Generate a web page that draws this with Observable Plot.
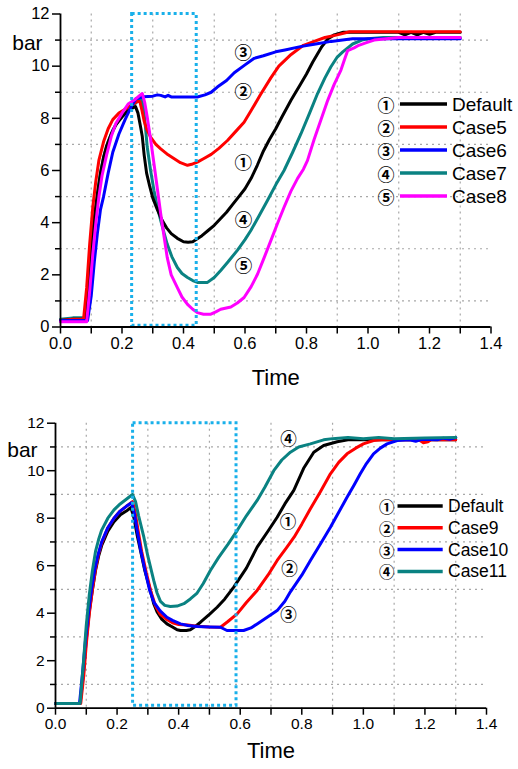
<!DOCTYPE html>
<html>
<head>
<meta charset="utf-8">
<script src="https://cdn.jsdelivr.net/npm/d3@7"></script>
<script src="https://cdn.jsdelivr.net/npm/@observablehq/plot@0.6"></script>
<style>
  body { margin: 0; background: #fff; font-family: "Liberation Sans", Arial, sans-serif; }
  .panel { position: relative; width: 518px; }
  .panel svg.overlay { position: absolute; left: 0; top: 0; pointer-events: none; }
</style>
</head>
<body>
<div id="top" class="panel" style="height:395px"></div>
<div id="bot" class="panel" style="height:374px"></div>
<script>
// ---------------- DATA ----------------
// Top panel: [Time, bar]
const defaultTop = [[0,0.25],[0.04,0.3],[0.08,0.3],[0.09,1.6],[0.1,3.0],[0.11,4.2],[0.12,5.1],[0.13,5.9],[0.14,6.5],[0.15,6.95],[0.165,7.4],[0.18,7.75],[0.2,8.05],[0.22,8.3],[0.235,8.4],[0.244,8.45],[0.252,8.2],[0.26,7.7],[0.266,7.3],[0.272,6.6],[0.28,5.9],[0.29,5.4],[0.3,4.95],[0.315,4.5],[0.33,4.1],[0.345,3.8],[0.36,3.58],[0.38,3.4],[0.4,3.27],[0.415,3.25],[0.43,3.27],[0.445,3.38],[0.46,3.5],[0.48,3.7],[0.5,3.9],[0.52,4.15],[0.54,4.4],[0.56,4.7],[0.58,5.0],[0.6,5.3],[0.62,5.7],[0.64,6.2],[0.66,6.75],[0.68,7.2],[0.7,7.6],[0.72,8.05],[0.75,8.7],[0.78,9.3],[0.8,9.7],[0.82,10.15],[0.85,10.75],[0.87,11.05],[0.89,11.2],[0.92,11.3],[1.0,11.3],[1.1,11.3],[1.12,11.2],[1.14,11.3],[1.16,11.2],[1.18,11.3],[1.2,11.22],[1.22,11.3],[1.3,11.3]];
const case5Top = [[0,0.25],[0.04,0.3],[0.075,0.3],[0.085,1.5],[0.095,3.2],[0.105,4.6],[0.115,5.6],[0.125,6.4],[0.14,7.1],[0.155,7.6],[0.17,7.95],[0.19,8.2],[0.21,8.35],[0.23,8.5],[0.25,8.65],[0.258,8.65],[0.265,8.3],[0.272,7.9],[0.28,7.6],[0.293,7.28],[0.31,7.0],[0.326,6.83],[0.35,6.6],[0.37,6.45],[0.39,6.3],[0.413,6.2],[0.43,6.25],[0.445,6.32],[0.465,6.45],[0.49,6.62],[0.515,6.85],[0.543,7.15],[0.57,7.5],[0.597,7.85],[0.62,8.3],[0.65,8.9],[0.684,9.55],[0.71,10.0],[0.75,10.45],[0.79,10.8],[0.825,10.95],[0.86,11.1],[0.9,11.2],[0.94,11.32],[1.3,11.32]];
const case6Top = [[0,0.25],[0.04,0.25],[0.088,0.25],[0.1,1.2],[0.11,2.5],[0.12,3.6],[0.13,4.5],[0.14,5.0],[0.155,5.9],[0.17,6.7],[0.19,7.4],[0.21,7.95],[0.23,8.45],[0.245,8.75],[0.27,8.83],[0.3,8.85],[0.315,8.9],[0.326,8.88],[0.34,8.82],[0.35,8.88],[0.36,8.82],[0.4,8.82],[0.445,8.82],[0.47,8.9],[0.49,9.0],[0.51,9.2],[0.54,9.45],[0.565,9.75],[0.6,10.05],[0.63,10.3],[0.66,10.4],[0.7,10.55],[0.73,10.62],[0.78,10.75],[0.83,10.85],[0.88,10.95],[0.93,11.02],[0.95,11.05],[1.3,11.05]];
const case7Top = [[0,0.3],[0.04,0.35],[0.08,0.35],[0.09,1.5],[0.1,2.9],[0.11,4.1],[0.12,5.1],[0.13,5.9],[0.14,6.5],[0.155,7.1],[0.17,7.55],[0.19,7.95],[0.21,8.2],[0.233,8.45],[0.25,8.65],[0.262,8.8],[0.27,8.4],[0.276,7.7],[0.282,6.9],[0.293,6.0],[0.304,5.23],[0.315,4.6],[0.326,4.08],[0.337,3.6],[0.347,3.18],[0.362,2.7],[0.38,2.28],[0.395,2.05],[0.413,1.9],[0.43,1.78],[0.445,1.71],[0.478,1.71],[0.5,1.9],[0.521,2.17],[0.545,2.5],[0.575,2.94],[0.6,3.35],[0.619,3.7],[0.645,4.25],[0.673,4.85],[0.7,5.45],[0.727,6.0],[0.755,6.7],[0.782,7.41],[0.81,8.2],[0.836,8.95],[0.86,9.55],[0.879,9.97],[0.9,10.35],[0.918,10.55],[0.95,10.85],[0.98,11.0],[1.0,11.05],[1.05,11.1],[1.3,11.1]];
const case8Top = [[0,0.2],[0.04,0.2],[0.085,0.2],[0.095,1.4],[0.105,2.8],[0.115,4.0],[0.125,5.0],[0.135,5.8],[0.15,6.6],[0.165,7.3],[0.18,7.8],[0.2,8.2],[0.22,8.55],[0.24,8.7],[0.255,8.85],[0.266,8.95],[0.274,8.6],[0.282,8.05],[0.293,7.2],[0.304,6.26],[0.315,5.3],[0.326,4.33],[0.337,3.45],[0.347,2.67],[0.36,2.0],[0.38,1.51],[0.395,1.15],[0.413,0.87],[0.43,0.68],[0.445,0.55],[0.465,0.49],[0.489,0.49],[0.505,0.58],[0.521,0.68],[0.554,0.77],[0.575,0.92],[0.597,1.13],[0.62,1.55],[0.641,2.03],[0.662,2.65],[0.684,3.31],[0.705,3.95],[0.727,4.59],[0.749,5.2],[0.771,5.7],[0.79,6.05],[0.803,6.38],[0.825,7.2],[0.847,7.95],[0.869,8.69],[0.89,9.3],[0.912,9.85],[0.925,10.3],[0.934,10.6],[0.955,10.7],[0.97,10.8],[0.995,10.9],[1.02,11.0],[1.06,11.05],[1.1,11.1],[1.3,11.1]];

// Bottom panel: [Time, bar]
const defaultBot = [[0,0.2],[0.04,0.2],[0.08,0.2],[0.09,1.4],[0.1,2.9],[0.11,4.1],[0.12,5.0],[0.13,5.8],[0.14,6.4],[0.15,6.85],[0.17,7.45],[0.19,7.85],[0.211,8.15],[0.23,8.3],[0.245,8.45],[0.255,8.0],[0.265,7.3],[0.276,6.64],[0.29,5.8],[0.308,4.96],[0.319,4.4],[0.33,4.05],[0.345,3.75],[0.362,3.55],[0.38,3.42],[0.395,3.3],[0.406,3.27],[0.425,3.27],[0.438,3.3],[0.455,3.45],[0.471,3.62],[0.5,3.95],[0.525,4.25],[0.55,4.6],[0.579,5.1],[0.62,5.9],[0.655,6.78],[0.69,7.45],[0.72,8.04],[0.745,8.6],[0.774,9.17],[0.806,10.1],[0.839,10.78],[0.871,11.06],[0.915,11.22],[0.95,11.3],[1.3,11.3]];
const case9Bot = [[0,0.2],[0.04,0.2],[0.082,0.2],[0.092,1.4],[0.1,2.7],[0.11,4.0],[0.12,5.0],[0.13,5.85],[0.14,6.5],[0.15,6.95],[0.17,7.6],[0.19,8.0],[0.21,8.3],[0.23,8.5],[0.25,8.7],[0.258,8.3],[0.268,7.5],[0.28,6.6],[0.295,5.7],[0.31,4.9],[0.325,4.3],[0.34,3.95],[0.36,3.75],[0.38,3.6],[0.4,3.52],[0.43,3.5],[0.46,3.45],[0.5,3.42],[0.536,3.41],[0.56,3.65],[0.59,3.97],[0.62,4.45],[0.655,4.96],[0.69,5.6],[0.72,6.22],[0.75,6.75],[0.775,7.2],[0.8,7.75],[0.828,8.4],[0.86,9.1],[0.893,9.87],[0.92,10.35],[0.947,10.71],[0.975,10.95],[1.0,11.13],[1.033,11.27],[1.06,11.3],[1.18,11.3],[1.195,11.18],[1.21,11.22],[1.22,11.3],[1.3,11.3]];
const case10Bot = [[0,0.2],[0.04,0.2],[0.078,0.2],[0.088,1.5],[0.097,2.8],[0.107,4.0],[0.117,5.0],[0.127,5.8],[0.137,6.4],[0.15,7.0],[0.17,7.6],[0.19,8.0],[0.21,8.3],[0.23,8.5],[0.247,8.65],[0.256,8.2],[0.265,7.5],[0.276,6.7],[0.29,5.85],[0.305,5.0],[0.32,4.45],[0.34,4.1],[0.362,3.83],[0.38,3.7],[0.406,3.55],[0.43,3.48],[0.46,3.44],[0.5,3.42],[0.536,3.41],[0.557,3.27],[0.611,3.27],[0.635,3.38],[0.655,3.55],[0.69,3.85],[0.72,4.11],[0.745,4.5],[0.763,4.9],[0.8,5.6],[0.828,6.22],[0.86,6.9],[0.893,7.62],[0.92,8.25],[0.947,8.88],[0.97,9.4],[0.99,9.87],[1.01,10.3],[1.033,10.71],[1.055,10.95],[1.077,11.13],[1.11,11.27],[1.15,11.3],[1.17,11.24],[1.19,11.32],[1.24,11.3],[1.26,11.37],[1.28,11.32],[1.3,11.4]];
const case11Bot = [[0,0.2],[0.04,0.2],[0.08,0.2],[0.09,1.8],[0.1,3.5],[0.11,4.8],[0.12,5.8],[0.13,6.6],[0.14,7.1],[0.15,7.5],[0.17,8.0],[0.19,8.35],[0.21,8.6],[0.23,8.8],[0.25,9.0],[0.26,8.7],[0.27,8.1],[0.287,7.2],[0.3,6.4],[0.319,5.38],[0.33,4.85],[0.341,4.5],[0.355,4.33],[0.373,4.28],[0.395,4.3],[0.417,4.4],[0.438,4.6],[0.46,4.85],[0.48,5.25],[0.503,5.8],[0.53,6.35],[0.56,6.9],[0.59,7.48],[0.62,8.1],[0.655,8.75],[0.68,9.3],[0.709,10.0],[0.735,10.45],[0.763,10.78],[0.79,11.0],[0.828,11.13],[0.871,11.3],[0.9,11.35],[0.95,11.4],[1.0,11.35],[1.05,11.4],[1.1,11.35],[1.2,11.38],[1.3,11.4]];

// Series names & colours
const topNames = ["Default", "Case5", "Case6", "Case7", "Case8"];
const topColors = ["#000000", "#ff0000", "#0000ff", "#0a8282", "#ff00ff"];
const topSeries = [defaultTop, case5Top, case6Top, case7Top, case8Top];
const botNames = ["Default", "Case9", "Case10", "Case11"];
const botColors = ["#000000", "#ff0000", "#0000ff", "#0a8282"];
const botSeries = [defaultBot, case9Bot, case10Bot, case11Bot];
const circled = ["①", "②", "③", "④", "⑤"];

// Circled labels on curves [Time, bar, label]
const annotTop = [[0.594, 10.49, "③"], [0.594, 9.01, "②"], [0.594, 6.28, "①"], [0.595, 4.1, "④"], [0.595, 2.31, "⑤"]];
const annotBot = [[0.757, 11.3, "④"], [0.755, 7.79, "①"], [0.76, 5.83, "②"], [0.757, 3.9, "③"]];

// Highlight boxes [t1, t2, v1, v2]
const boxTop = [0.233, 0.443, 0.05, 12];
const boxBot = [0.252, 0.588, 0.1, 12];

// Ticks
const xMajor = [0, 0.2, 0.4, 0.6, 0.8, 1.0, 1.2, 1.4];
const xMinor = [0.1, 0.3, 0.5, 0.7, 0.9, 1.1, 1.3];
const yMajor = [0, 2, 4, 6, 8, 10, 12];
const yMinor = [1, 3, 5, 7, 9, 11];

// ---------------- DRAW ----------------
const CJK = "'Noto Sans CJK JP', 'DejaVu Sans', sans-serif";

function panel(el, cfg) {
  const lines = cfg.series.map((s, i) =>
    Plot.line(s, {x: d => d[0], y: d => d[1], stroke: cfg.colors[i], strokeWidth: 3, strokeLinejoin: "round", strokeLinecap: "round"}));
  const order = cfg.order.map(i => lines[i]);
  const chart = Plot.plot({
    width: 518, height: cfg.height,
    marginLeft: cfg.ml, marginRight: cfg.mr, marginTop: cfg.mt, marginBottom: cfg.mb,
    x: {domain: [0, 1.4]}, y: {domain: [0, 12]},
    style: {fontFamily: "'Liberation Sans', Arial, sans-serif", color: "#000", background: "#fff", overflow: "visible"},
    marks: [
      Plot.gridX(xMinor, {stroke: "#a8a8a8", strokeOpacity: 1, strokeWidth: 1.2, strokeDasharray: "2,4"}),
      Plot.gridY(yMinor, {stroke: "#a8a8a8", strokeOpacity: 1, strokeWidth: 1.2, strokeDasharray: "2,4"}),
      ...order,
      Plot.rect([cfg.box], {x1: d => d[0], x2: d => d[1], y1: d => d[2], y2: d => d[3], fill: "none", stroke: "#19b0ea", strokeWidth: 3, strokeDasharray: "3,3"}),
      Plot.text(cfg.annot, {x: d => d[0], y: d => d[1], text: d => d[2], fontFamily: CJK, fontSize: cfg.cfs, fontWeight: "bold", fill: "#000"}),
      Plot.axisX(xMajor, {tickSize: 7, tickPadding: 3, tickFormat: d => d.toFixed(1), fontSize: cfg.fs, strokeWidth: 1.5, label: null}),
      Plot.axisX(xMinor, {tickSize: 7, tickFormat: () => "", strokeWidth: 1.5, label: null}),
      Plot.axisY(yMajor, {tickSize: 8, tickPadding: 3, tickFormat: d => String(d), fontSize: cfg.fs, strokeWidth: 1.5, label: null}),
      Plot.axisY(yMinor, {tickSize: 5, tickFormat: () => "", strokeWidth: 1.5, label: null}),
      Plot.ruleX([0], {stroke: "#000", strokeWidth: 1.8}),
      Plot.ruleY([0], {stroke: "#000", strokeWidth: 1.8}),
      Plot.text(["Time"], {frameAnchor: "bottom", dy: cfg.timeDy, fontSize: 22, fill: "#000"}),
      Plot.text(["bar"], {frameAnchor: "top-left", dx: cfg.barDx, dy: cfg.barDy, textAnchor: "start", fontSize: 21, fill: "#000"})
    ]
  });
  el.appendChild(chart);

  // Legend overlay
  const svg = d3.select(el).append("svg").attr("class", "overlay")
    .attr("width", 518).attr("height", cfg.height);
  cfg.names.forEach((name, i) => {
    const y = cfg.leg.y0 + i * cfg.leg.dy;
    svg.append("text").attr("x", cfg.leg.cx).attr("y", y).attr("text-anchor", "middle")
      .attr("dominant-baseline", "central").attr("font-family", CJK).attr("font-weight", "bold")
      .attr("font-size", cfg.leg.cfs).text(circled[i]);
    svg.append("line").attr("x1", cfg.leg.lx1).attr("x2", cfg.leg.lx2).attr("y1", y).attr("y2", y)
      .attr("stroke", cfg.colors[i]).attr("stroke-width", 3.5);
    svg.append("text").attr("x", cfg.leg.tx).attr("y", y).attr("dominant-baseline", "central")
      .attr("font-family", "'Liberation Sans', Arial, sans-serif").attr("font-size", cfg.leg.fs).text(name);
  });
}

panel(document.getElementById("top"), {
  height: 395, ml: 60, mr: 27.5, mt: 13.5, mb: 68.5, fs: 16.5, cfs: 17.5,
  series: topSeries, names: topNames, colors: topColors, order: [3, 0, 1, 2, 4],
  annot: annotTop, box: boxTop, timeDy: 58, barDx: -48.3, barDy: 21.5,
  leg: {y0: 104, dy: 23, cx: 386, lx1: 400, lx2: 447, tx: 452, fs: 19, cfs: 17}
});
panel(document.getElementById("bot"), {
  height: 374, ml: 55, mr: 32, mt: 27.7, mb: 61.3, fs: 15.5, cfs: 16.5,
  series: botSeries, names: botNames, colors: botColors, order: [0, 1, 2, 3],
  annot: annotBot, box: boxBot, timeDy: 50, barDx: -48.3, barDy: 19,
  leg: {y0: 111, dy: 21.8, cx: 386.7, lx1: 397.5, lx2: 442.7, tx: 448, fs: 17.5, cfs: 15.5}
});
</script>
</body>
</html>
